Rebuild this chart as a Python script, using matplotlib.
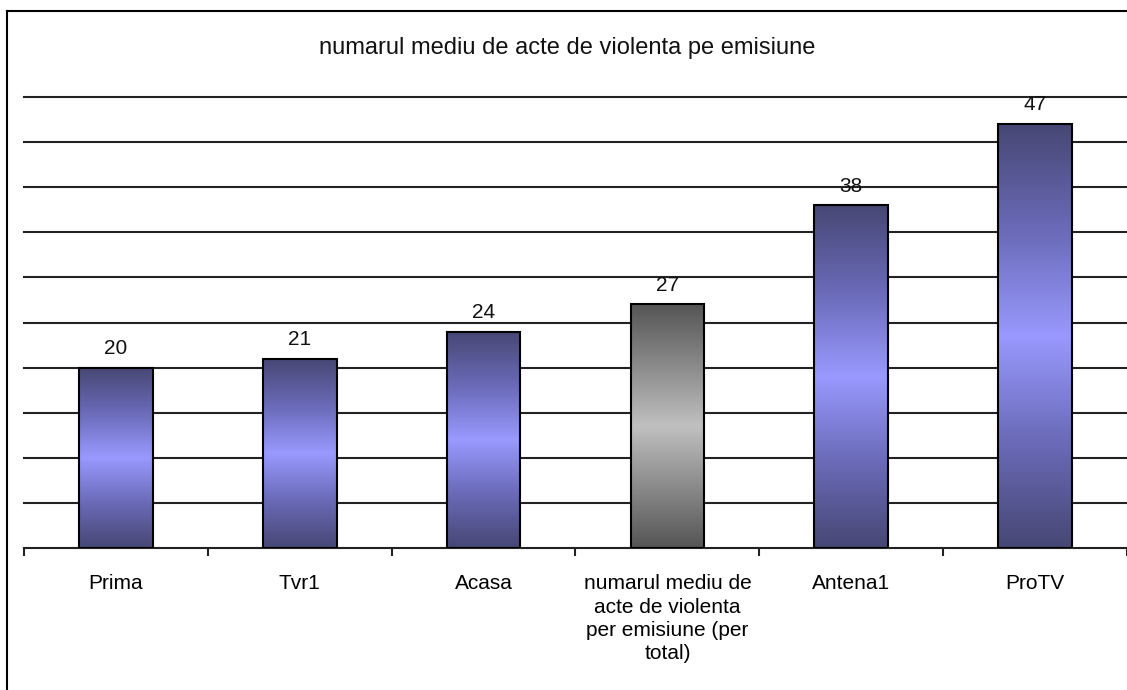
import matplotlib
matplotlib.use('Agg')
import matplotlib.pyplot as plt
import numpy as np
from matplotlib.colors import LinearSegmentedColormap
from matplotlib.lines import Line2D

categories = ['Prima', 'Tvr1', 'Acasa',
              'numarul mediu de\nacte de violenta\nper emisiune (per\ntotal)',
              'Antena1', 'ProTV']
values = [20, 21, 24, 27, 38, 47]
is_total = [False, False, False, True, False, False]
title = 'numarul mediu de acte de violenta pe emisiune'

plt.rcParams['font.family'] = ['Liberation Sans', 'DejaVu Sans']

blue_cmap = LinearSegmentedColormap.from_list('blue', ['#474775', '#6a6ab8', '#9999ff', '#6a6ab8', '#474775'])
gray_cmap = LinearSegmentedColormap.from_list('gray', ['#555555', '#8a8a8a', '#c0c0c0', '#8a8a8a', '#555555'])

fig = plt.figure(figsize=(11.27, 6.9), dpi=100)
ax = fig.add_axes([24/1127, 1-548/690, 1-24/1127, (548-97)/690])

x = np.arange(len(categories))
bars = ax.bar(x, values, width=0.4, edgecolor='black', linewidth=1.5, facecolor='none', zorder=3)

grad = np.linspace(0, 1, 256).reshape(-1, 1)
for b, tot in zip(bars, is_total):
    x0, y0, w, h = b.get_x(), b.get_y(), b.get_width(), b.get_height()
    im = ax.imshow(grad, cmap=gray_cmap if tot else blue_cmap, aspect='auto',
                   extent=[x0, x0 + w, y0, y0 + h], origin='lower', zorder=2)
    im.set_clip_path(b)

for b, v in zip(bars, values):
    ax.annotate(str(v), (b.get_x() + b.get_width()/2, b.get_height()),
                xytext=(0, 7), textcoords='offset points', ha='center', va='bottom',
                fontsize=15, color='#111111')

ax.set_xlim(-0.5, len(categories) - 0.5)
ax.set_ylim(0, 50)
ax.set_yticks(np.arange(5, 51, 5))
ax.yaxis.grid(True, color='#222222', linewidth=1.5, zorder=0)
for gl in ax.get_ygridlines():
    gl.set_clip_on(False)
ax.set_axisbelow(True)
ax.tick_params(axis='y', length=0, labelleft=False)

ax.set_xticks(x)
ax.set_xticklabels(categories, fontsize=15, linespacing=1.28)
ax.set_xticks(np.arange(-0.5, len(categories), 1), minor=True)
ax.tick_params(axis='x', which='major', length=0, pad=19)
ax.tick_params(axis='x', which='minor', length=6, width=1.5, direction='out', color='#222222')

for s in ['left', 'right', 'top']:
    ax.spines[s].set_visible(False)
ax.spines['bottom'].set_linewidth(1.5)
ax.spines['bottom'].set_color('#222222')

fig.text(567/1127, 1-48/690, title, ha='center', va='center', fontsize=17, color='#111111')

# outer chart border (top and left edges visible)
fig.add_artist(Line2D([7/1127, 7/1127], [0, 1-11/690], transform=fig.transFigure, color='black', linewidth=1.5))
fig.add_artist(Line2D([7/1127, 1], [1-11/690, 1-11/690], transform=fig.transFigure, color='black', linewidth=1.5))

fig.savefig('out.png', dpi=100)
